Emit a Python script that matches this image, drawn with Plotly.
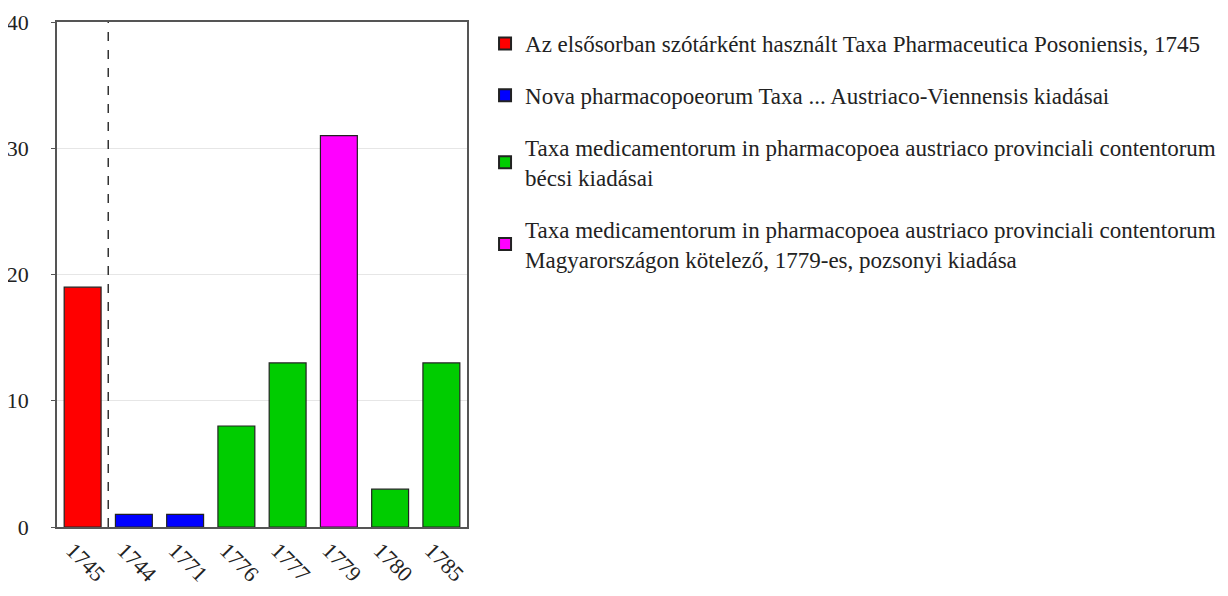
import plotly.graph_objects as go

categories = ["1745", "1744", "1771", "1776", "1777", "1779", "1780", "1785"]

series_names = [
    "Az elsősorban szótárként használt Taxa Pharmaceutica Posoniensis, 1745",
    "Nova pharmacopoeorum Taxa ... Austriaco-Viennensis kiadásai",
    "Taxa medicamentorum in pharmacopoea austriaco provinciali contentorum<br>bécsi kiadásai",
    "Taxa medicamentorum in pharmacopoea austriaco provinciali contentorum<br>Magyarországon kötelező, 1779-es, pozsonyi kiadása",
]
series_x = [
    ["1745"],
    ["1744", "1771"],
    ["1776", "1777", "1780", "1785"],
    ["1779"],
]
series_y = [
    [19],
    [1, 1],
    [8, 13, 3, 13],
    [31],
]
colors = ["#ff0000", "#0000ff", "#00cc00", "#ff00ff"]
y_ticks = [0, 10, 20, 30, 40]

FONT = "Liberation Serif, Times New Roman, serif"

fig = go.Figure()
for i, (name, xs, ys, c) in enumerate(zip(series_names, series_x, series_y, colors)):
    fig.add_trace(go.Bar(
        x=xs, y=ys, name=name, legendgroup=f"g{i}",
        marker=dict(color=c, line=dict(color="#222222", width=1.2)),
    ))

fig.add_shape(type="line", xref="x", yref="paper", x0=0.5, x1=0.5, y0=0, y1=1,
              line=dict(color="#333333", width=1.5, dash="dash"))

fig.update_layout(
    width=1228, height=596,
    margin=dict(l=49, r=769, t=14, b=77, autoexpand=False),
    barmode="overlay", bargap=0.28,
    plot_bgcolor="white", paper_bgcolor="white",
    font=dict(family=FONT, size=22, color="#222222"),
    showlegend=True,
    legend=dict(
        x=1.044, y=1.0, xanchor="left", yanchor="top",
        font=dict(family=FONT, size=23, color="#222222"),
        traceorder="grouped", tracegroupgap=19,
        itemsizing="constant",
    ),
)
fig.update_xaxes(
    type="category", categoryorder="array", categoryarray=categories,
    tickangle=45, showline=True, linecolor="#555555", linewidth=1.5,
    mirror=True, ticks="", showgrid=False, automargin=False,
    ticklabelshift=-10,
    tickfont=dict(family=FONT, size=22),
)
fig.update_yaxes(
    range=[0, 40], tickvals=y_ticks, showline=True, linecolor="#555555", linewidth=1.5,
    mirror=True, ticks="outside", ticklen=4, tickcolor="#555555",
    showgrid=True, gridcolor="#e6e6e6", gridwidth=1, zeroline=False,
    automargin=False, ticklabelstandoff=18,
    tickfont=dict(family=FONT, size=22),
)

fig.write_html("out.html")
